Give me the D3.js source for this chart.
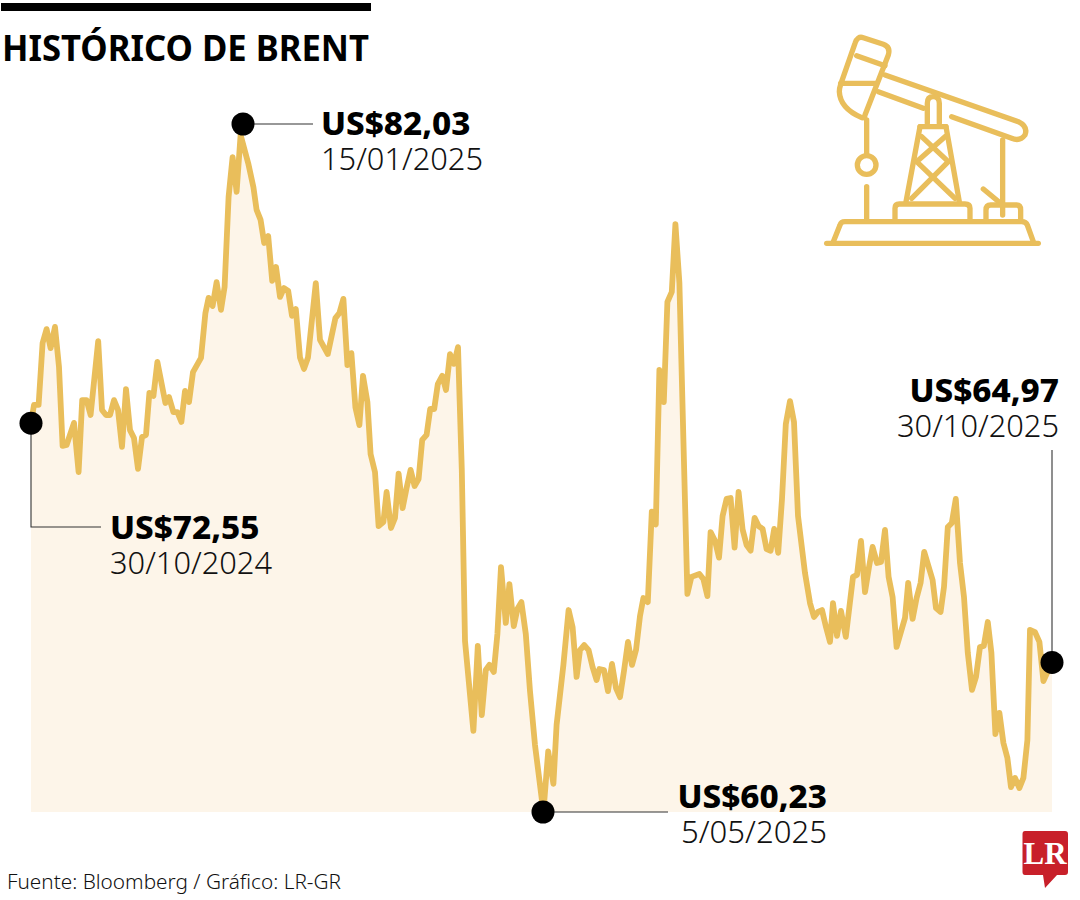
<!DOCTYPE html>
<html><head><meta charset="utf-8">
<script src="https://cdn.jsdelivr.net/npm/d3@7/dist/d3.min.js"></script>
<style>html,body{margin:0;padding:0;background:#fff}svg{display:block}</style>
</head><body><svg id="c" width="1080" height="900"></svg>
<script>
const titleText = "HISTÓRICO DE BRENT";
const sourceText = "Fuente: Bloomberg / Gráfico: LR-GR";
// Session number (trading sessions since 30/10/2024) and Brent price in US$
const sessions = [0,.75,1.9,2.9,3.9,4.9,6,7,7.9,8.9,10.75,11.9,12.8,13.9,14.9,16.8,17.75,18.75,19.75,20.75,21.75,22.75,23.75,24.75,25.75,26.75,27.75,28.75,29.6,30.6,31.6,33.6,34.5,35.6,36.6,37.6,38.5,39.5,40.5,42.5,43.6,44.4,45.4,46.4,47.5,48.4,49.4,50.4,51.4,52.4,54.3,55.6,56.4,57.4,58.3,59.3,60.3,61.25,62.25,63.25,64.3,65.25,66.2,67.25,68.25,69.25,71.2,72.25,74.2,76.1,77.1,78.1,79.1,80.1,81.1,82.1,83,84.1,84.9,86,86.9,88.1,88.9,90,91,91.9,92.9,93.9,94.9,95.9,96.9,97.8,98.9,99.8,100.8,101.7,102.8,103.75,104.75,105.75,106.75,107.7,108.5,110.6,111.7,112.7,113.7,114.6,115.7,116.6,117.5,118.7,119.6,120.7,121.6,122.6,123.7,124.75,126,128.1,129.3,130.6,131.4,133.1,134.4,135.4,136.4,137.25,138.3,139.4,140.4,141.4,142.1,143.25,144.25,145.25,146.25,147.25,148.25,149.25,150.25,151.25,152.25,153.1,154.2,155.2,156.2,157.1,158.2,159.1,160.2,161.1,162.1,163.1,164.1,165.1,167.1,168.1,169.1,169.9,171,172,172.9,173.9,174.9,175.9,176.9,177.9,178.9,179.9,180.9,181.9,182.9,183.9,184.9,185.8,186.8,187.75,188.7,189.75,190.75,191.75,193.5,194.75,195.75,196.75,197.75,198.75,199.75,200.5,201.5,202.5,203.7,204.6,205.5,206.5,207.5,208.5,209.5,210.4,211.5,212.5,213.5,214.4,215.4,216.4,218.5,219.3,220.4,221.4,222.4,223.3,225.4,226.25,227.4,228.25,229.2,230.2,231.2,232.25,233.25,234.2,235.25,236.25,237.25,238.2,239.2,240.1,241.1,242.1,243.1,244.1,245,246,247.1,248.1,249.1,249.75,251,252.1,253.1,255.25];
const prices = [72.55,73.13,73.13,75.09,75.53,74.93,75.60,74.33,71.83,71.86,72.56,71.00,73.28,73.28,72.81,75.15,72.97,72.81,72.81,73.28,72.97,71.80,73.63,72.33,72.08,71.10,72.11,72.18,73.51,73.41,74.49,73.19,73.38,72.90,72.90,72.59,73.57,73.22,74.17,74.62,76.04,76.52,76.26,77.02,76.14,76.87,79.72,80.98,79.88,81.68,80.79,80.03,79.31,78.99,78.26,78.48,77.06,77.50,76.55,76.83,76.74,75.95,76.17,74.63,74.27,74.63,76.99,75.19,74.74,75.88,76.04,76.49,74.39,74.77,73.05,72.49,74.05,73.22,71.57,71.00,69.29,69.42,70.37,69.23,69.55,70.95,69.86,70.50,71.07,70.56,70.78,72.02,72.18,73.00,73.00,73.79,74.05,73.60,74.74,74.43,74.96,71.07,65.65,62.80,65.49,63.30,64.73,64.89,64.67,65.87,67.99,66.22,67.45,66.12,66.66,66.88,65.87,64.06,62.35,60.23,62.15,61.12,62.99,64.89,66.63,66.09,64.51,65.36,65.52,65.36,64.82,64.41,64.76,64.73,64.06,64.92,64.16,63.87,64.70,65.62,64.89,65.36,66.44,67.01,66.88,69.75,69.34,74.24,73.22,76.39,76.71,78.86,76.99,72.02,67.14,67.68,67.77,67.61,67.07,69.10,68.82,68.29,69.61,70.15,70.18,68.61,70.37,69.18,68.69,68.51,69.55,69.29,69.20,68.56,68.51,69.20,68.44,70.15,72.52,73.25,72.59,69.61,67.80,66.85,66.41,66.57,66.63,66.09,65.62,66.85,65.81,66.60,65.78,66.73,67.68,67.74,68.82,67.20,67.99,68.63,68.12,68.15,69.17,67.68,67.04,65.46,66.38,67.49,66.35,67.01,67.49,68.47,67.58,66.69,66.57,67.36,69.26,69.39,70.15,68.12,67.04,65.27,64.10,64.51,65.46,65.49,66.25,65.27,62.70,63.37,62.42,61.94,61.02,61.31,60.99,61.31,62.51,66.00,65.93,65.62,64.38,64.97];
const calloutSessions = [0,53,128,255.25];
const calloutValues = [72.55,82.03,60.23,64.97];
const calloutPrices = ["US$72,55","US$82,03","US$60,23","US$64,97"];
const calloutDates = ["30/10/2024","15/01/2025","5/05/2025","30/10/2025"];

const svg = d3.select("#c");
const x = d3.scaleLinear().domain([0,255.25]).range([31,1052]);
const y = d3.scaleLinear().domain([60.23,82.03]).range([812,124]);
const pts = sessions.map((s,i)=>[s,prices[i]]);
const GOLD="#E9BE5B", FILL="#FDF5E9", INK="#000", SOFT="#333";
const sans="'Noto Sans','Open Sans',sans-serif";

svg.append("rect").attr("x",1).attr("y",3).attr("width",370).attr("height",8).attr("fill","#000");
svg.append("text").attr("x",2).attr("y",61).attr("font-family",sans).attr("font-weight",700)
  .attr("font-size",36.5).attr("textLength",367).attr("lengthAdjust","spacingAndGlyphs").attr("fill","#000").text(titleText);

svg.append("path").datum(pts).attr("fill",FILL)
  .attr("d",d3.area().x(d=>x(d[0])).y0(y(60.23)).y1(d=>y(d[1])));
svg.append("path").datum(pts).attr("fill","none").attr("stroke",GOLD).attr("stroke-width",5.8)
  .attr("stroke-linejoin","round")
  .attr("d",d3.line().x(d=>x(d[0])).y(d=>y(d[1])));

// Leaders
const lead = [
  [[0,72.55],[0,y.invert(527)],[x.invert(101),y.invert(527)]],
  [[53,82.03],[x.invert(313),82.03]],
  [[128,60.23],[x.invert(668),60.23]],
  [[255.25,64.97],[255.25,y.invert(450)]]
];
const ln=d3.line().x(d=>x(d[0])).y(d=>y(d[1]));
lead.forEach(l=>svg.append("path").attr("d",ln(l)).attr("fill","none").attr("stroke",SOFT).attr("stroke-width",1.1));
svg.selectAll("circle.dot").data(calloutSessions).join("circle").attr("class","dot")
  .attr("cx",d=>x(d)).attr("cy",(d,i)=>y(calloutValues[i])).attr("r",11.5).attr("fill","#000");

const txtPos=[{x:110,a:"start",b:539,dw:162},{x:321,a:"start",b:135,dw:162},{x:827,a:"end",b:808,dw:146},{x:1059,a:"end",b:402,dw:162}];
txtPos.forEach((p,i)=>{
  svg.append("text").attr("x",p.x).attr("y",p.b).attr("text-anchor",p.a).attr("font-family",sans).attr("font-weight",800)
    .attr("font-size",32).attr("textLength",149.5).attr("lengthAdjust","spacingAndGlyphs").attr("fill",INK).text(calloutPrices[i]);
  svg.append("text").attr("x",p.x).attr("y",p.b+35).attr("text-anchor",p.a).attr("font-family",sans).attr("font-weight",300)
    .attr("font-size",31).attr("textLength",p.dw).attr("lengthAdjust","spacingAndGlyphs").attr("fill","#111").text(calloutDates[i]);
});
svg.append("text").attr("x",7).attr("y",889).attr("font-family",sans).attr("font-size",20.5).attr("font-weight",300)
  .attr("textLength",334).attr("lengthAdjust","spacingAndGlyphs").attr("fill","#111").text(sourceText);

// Icon
const ic=svg.append("g").attr("transform","translate(820,25) scale(0.3333)")
  .attr("fill","none").attr("stroke",GOLD).attr("stroke-width",16).attr("stroke-linecap","round").attr("stroke-linejoin","round");
["M130 38 L190 58 Q212 66 205 90 L135 270 Q135 280 125 278 Q60 250 58 200 Q58 190 62 178 L105 55 Q112 32 130 38 Z",
 "M110 92 L195 122","M62 175 L170 175",
 "M195 150 L595 290 Q625 305 615 330 Q600 350 575 340 L395 275","M175 200 L310 250",
 "M322 295 V235 Q322 215 340 215 Q358 215 358 235 V295",
 "M300 305 H378","M300 305 L258 530","M378 305 L418 530",
 "M305 335 L385 410 L275 520","M375 335 L290 410 L405 520",
 "M225 585 V550 Q225 537 238 537 H435 Q450 537 450 550 V585",
 "M20 655 H655","M40 650 L60 600 Q63 590 75 590 H605 Q618 590 622 600 L640 650",
 "M140 285 V385","M140 485 V580",
 "M548 345 V570","M490 492 L548 540",
 "M498 585 V555 Q498 540 512 540 H590 Q602 540 602 555 V585"
].forEach(d=>ic.append("path").attr("d",d));
ic.append("circle").attr("cx",140).attr("cy",420).attr("r",28);

// Logo
svg.append("path").attr("d","M1025 831 H1065 Q1068 831 1068 834 V872 Q1068 875 1065 875 H1057 L1045 888 L1043 875 H1025 Q1022.5 875 1022.5 872 V834 Q1022.5 831 1025 831 Z").attr("fill","#C8202A");
svg.append("text").attr("x",1045).attr("y",864).attr("text-anchor","middle").attr("font-family","'Liberation Serif',serif")
  .attr("font-weight",700).attr("font-size",31).attr("fill","#fff").text("LR");
</script></body></html>
